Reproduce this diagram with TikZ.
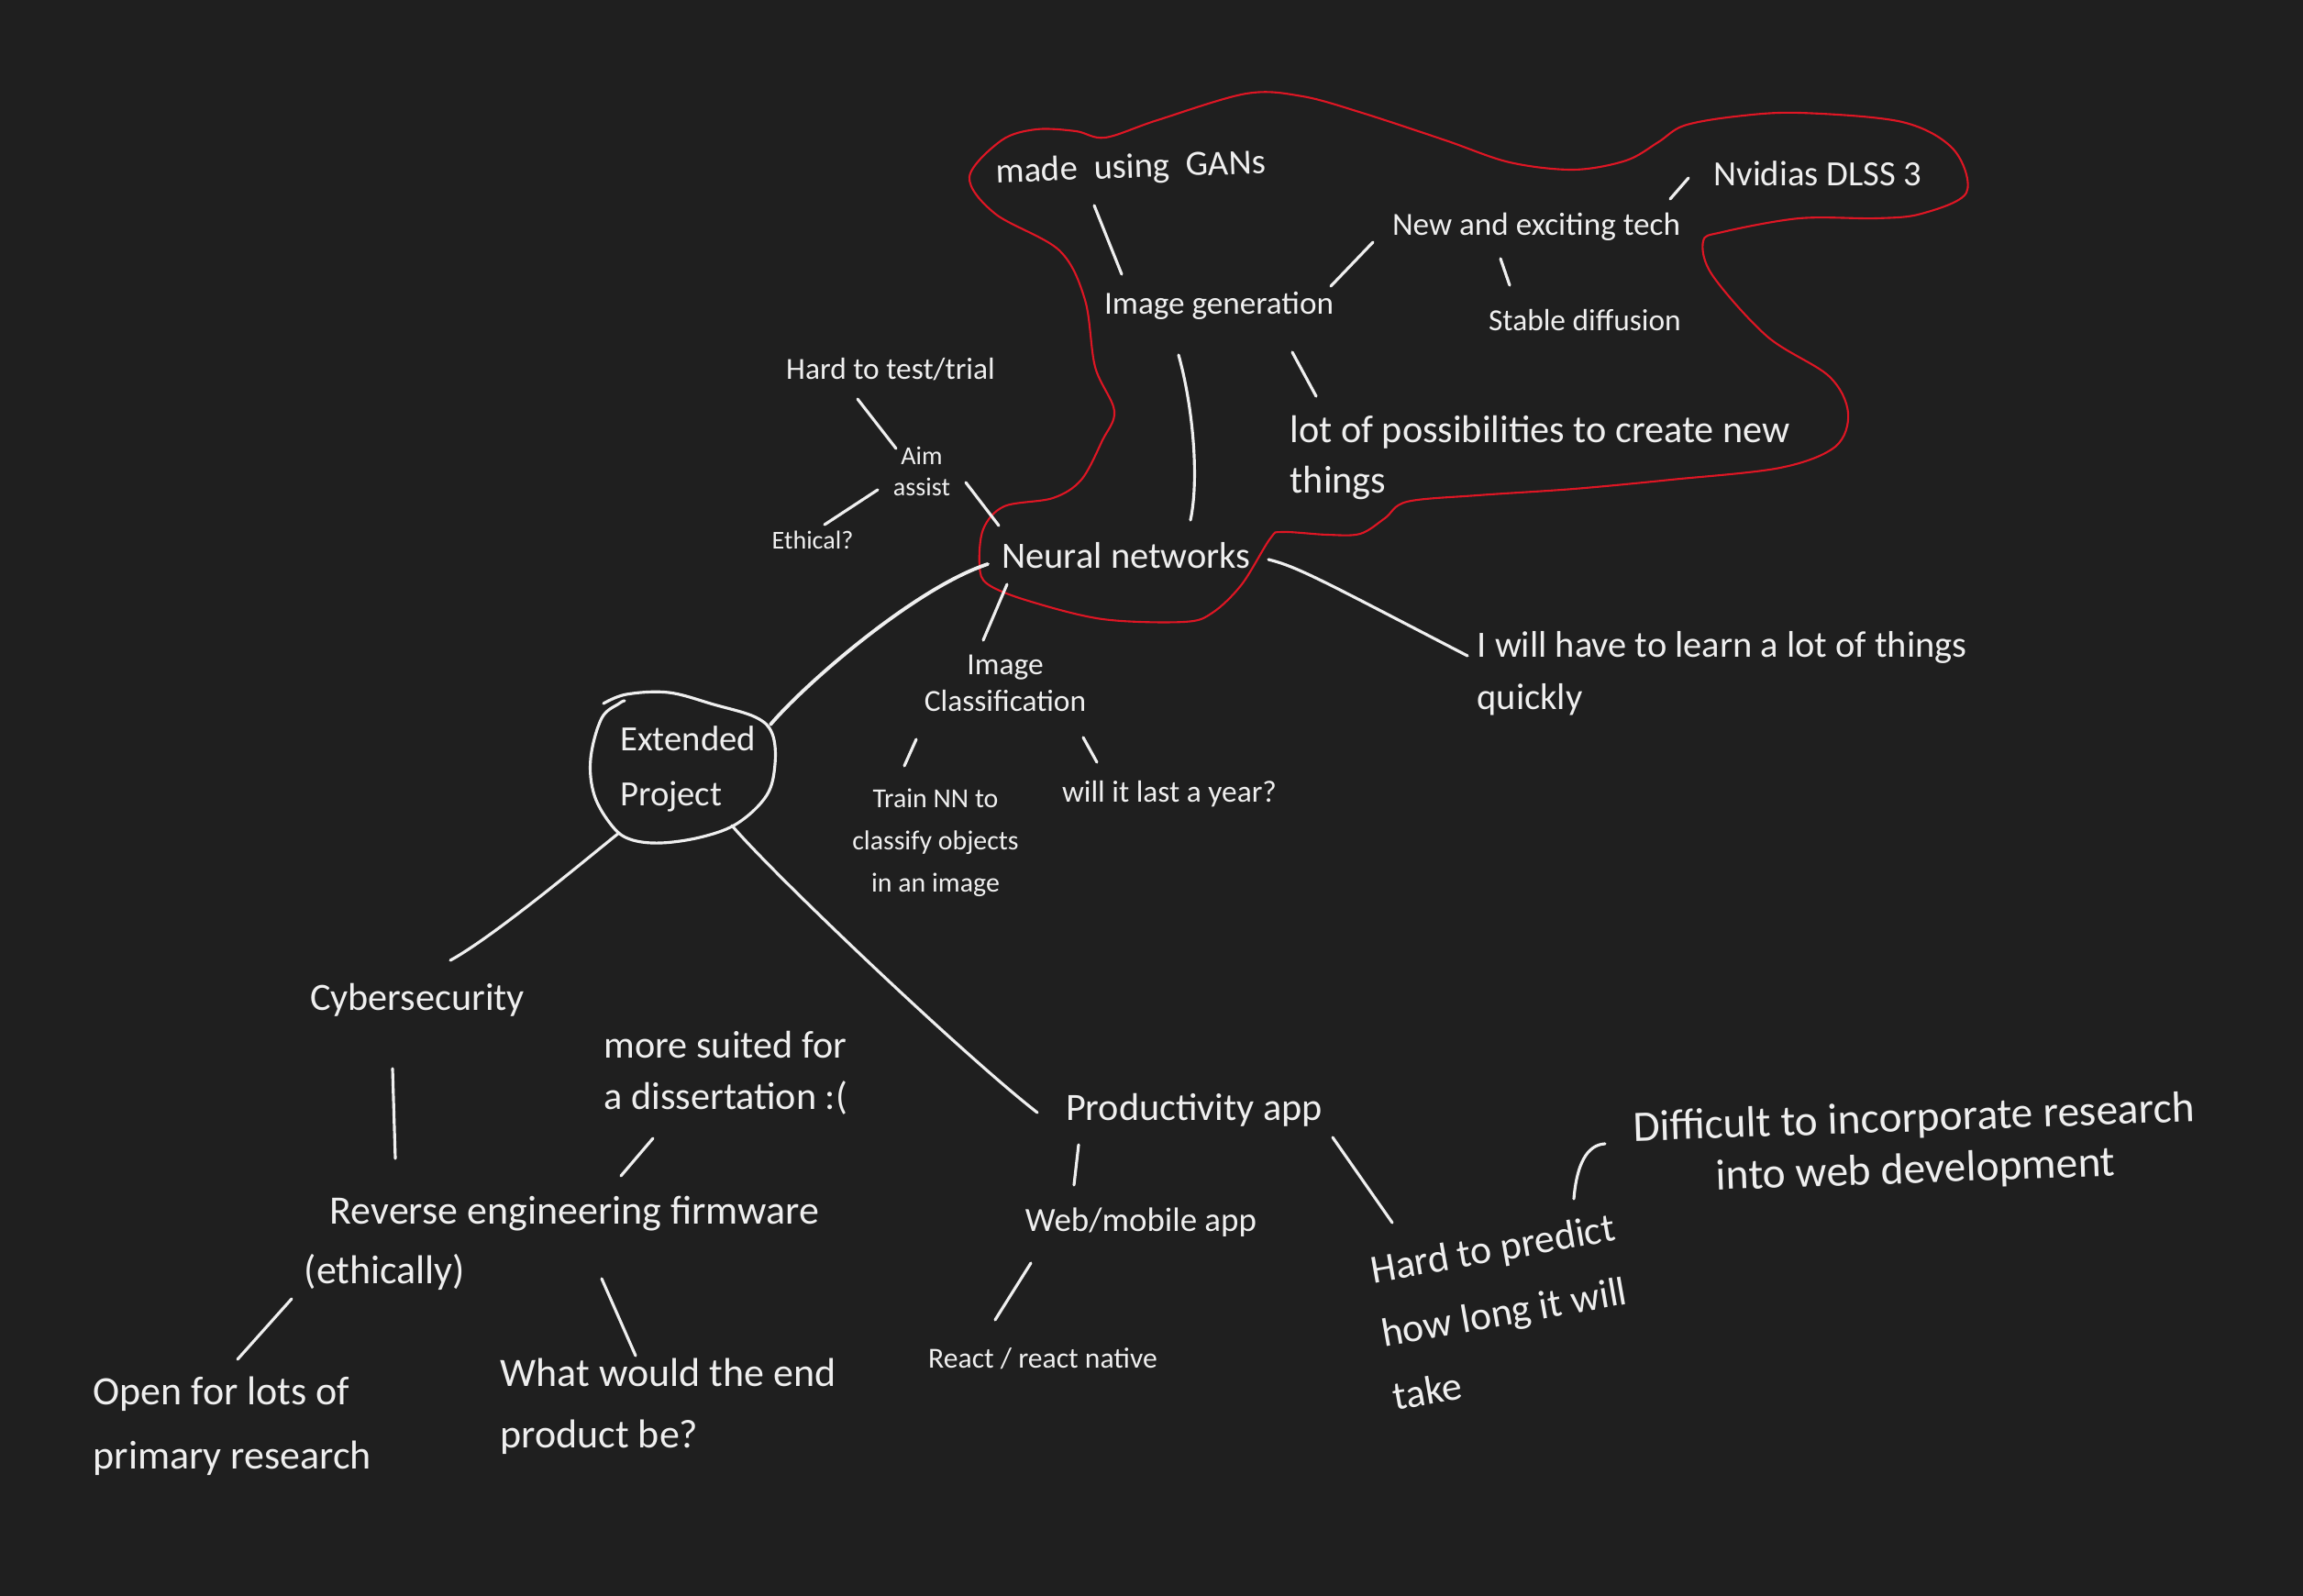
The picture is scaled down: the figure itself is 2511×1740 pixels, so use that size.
\documentclass[tikz,border=0pt]{standalone}
\usepackage{fontspec}
\setmainfont{Carlito}
\usetikzlibrary{calc}
\definecolor{bg}{HTML}{1F1F1F}
\definecolor{ink}{HTML}{EFEFEF}
\definecolor{blobred}{RGB}{222,22,36}
\newcommand{\fsz}[2]{\fontsize{#1}{#2}\selectfont}
\begin{document}
\begin{tikzpicture}[x=0.01cm,y=-0.01cm,
  lbl/.style={text=ink, inner sep=0pt, align=center},
  lbll/.style={text=ink, inner sep=0pt, align=left},
  link/.style={draw=ink, line width=0.9pt, line cap=round},
  blob/.style={draw=blobred, line width=0.6pt}]
\fill[bg] (0,0) rectangle (2511,1740);
\useasboundingbox (0,0) rectangle (2511,1740);

% ---- nodes ----
\node[lbl, font=\fsz{11}{14}, rotate=2] (gans) at (1233,184) {made\ \ using\ \ GANs};
\node[lbl, font=\fsz{11}{14}] (nvidia) at (1982,189) {Nvidias DLSS 3};
\node[lbl, font=\fsz{10}{12}] (newtech) at (1675,247) {New and exciting tech};
\node[lbl, font=\fsz{10}{12}] (imggen) at (1329,333) {Image generation};
\node[lbl, font=\fsz{9.5}{12}] (stable) at (1728,349) {Stable diffusion};
\node[lbll, font=\fsz{12}{15.5}, anchor=north west] (lot) at (1406,453) {lot of possibilities to create new\\things};
\node[lbl, font=\fsz{9.5}{12}] (hardtest) at (971,403) {Hard to test/trial};
\node[lbl, font=\fsz{8}{9.5}] (aim) at (1005,514) {Aim\\assist};
\node[lbl, font=\fsz{8}{10}] (ethical) at (886,589) {Ethical?};
\node[lbl, font=\fsz{11.5}{14}] (neural) at (1228,606) {Neural networks};
\node[lbl, font=\fsz{9.5}{11.5}] (imgclass) at (1096,745) {Image\\Classification};
\node[lbl, font=\fsz{8.5}{13}] (train) at (1020,919) {Train NN to\\classify objects\\in an image};
\node[lbl, font=\fsz{9.5}{11}] (willit) at (1275,866) {will it last a year?};
\node[lbll, font=\fsz{11.5}{16}, anchor=north west] (learn) at (1610,688) {I will have to learn a lot of things\\quickly};
\node[lbll, font=\fsz{11}{17}] (ext) at (750,838) {Extended\\Project};
\node[lbl, font=\fsz{12}{14}] (cyber) at (455,1090) {Cybersecurity};
\node[lbll, font=\fsz{12}{16}, anchor=north west] (more) at (658,1123) {more suited for\\a dissertation :(};
\node[lbll, font=\fsz{12.5}{18.5}, anchor=north west] (reverse) at (331,1303) {\hspace*{8pt}Reverse engineering firmware\\(ethically)};
\node[lbl, font=\fsz{12}{14}] (prod) at (1302,1210) {Productivity app};
\node[lbl, font=\fsz{10.5}{12}] (web) at (1244,1333) {Web/mobile app};
\node[lbl, font=\fsz{9}{11}] (react) at (1137,1481) {React / react native};
\node[lbll, font=\fsz{12.5}{20}, rotate=10] (hardpred) at (1640,1430) {Hard to predict\\how long it will\\take};
\node[lbl, font=\fsz{13.5}{16}, rotate=2] (difficult) at (2088,1249) {Difficult to incorporate research\\into web development};
\node[lbll, font=\fsz{12.5}{20}, anchor=north west] (open) at (101,1500) {Open for lots of\\primary research};
\node[lbll, font=\fsz{12.5}{19}, anchor=north west] (what) at (545,1480) {What would the end\\product be?};

% ---- outline of the central topic ----
\draw[link, shift={(ext)}] plot[smooth, tension=0.6] coordinates {(-92,-71) (-67,-81) (-21,-83) (28,-70) (74,-56) (92,-38) (95,-5) (86,29) (55,59) (17,74) (-29,81) (-63,77) (-83,62) (-102,29) (-106,-11) (-94,-55) (-75,-71) (-69,-74)};

% ---- red grouping outline ----
\draw[blob] plot[smooth cycle, tension=0.55] coordinates {(1057,193) (1092,153) (1130,141) (1173,143) (1205,150) (1262,131) (1359,102) (1420,105) (1485,123) (1576,153) (1646,177) (1716,185) (1773,175) (1808,155) (1836,137) (1892,127) (1962,123) (2074,133) (2130,163) (2144,210) (2095,233) (2046,238) (1962,238) (1878,253) (1857,263) (1867,300) (1927,367) (1994,410) (2015,450) (2001,487) (1941,510) (1822,523) (1716,533) (1611,540) (1534,547) (1510,565) (1483,582) (1447,583) (1398,580) (1385,587) (1354,637) (1322,668) (1291,678) (1202,675) (1121,655) (1077,637) (1068,617) (1072,577) (1095,552) (1148,543) (1179,523) (1202,480) (1215,448) (1194,400) (1183,327) (1155,273) (1085,233)};

% ---- connectors ----
\draw[link, line width=1.1pt] ($(ext)+(90,-48)$) .. controls (880,743) and (1000,640) .. ($(neural)+(-151,9)$);
\draw[link] ($(ext)+(-75,70)$) .. controls (640,936) and (540,1020) .. ($(cyber)+(36,-43)$);
\draw[link] ($(ext)+(48,62)$) .. controls (840,950) and (1050,1150) .. ($(prod)+(-171,3)$);

\draw[link] ($(gans)+(-40,40)$) -- ($(imggen)+(-106,-34)$);
\draw[link] ($(imggen)+(122,-21)$) -- ($(newtech)+(-178,17)$);
\draw[link] ($(newtech)+(146,-30)$) -- ($(nvidia)+(-141,5)$);
\draw[link] ($(newtech)+(-39,35)$) -- ($(stable)+(-82,-38)$);
\draw[link] ($(imggen)+(80,51)$) -- ($(lot.north west)+(29,-21)$);
\draw[link] ($(imggen)+(-44,54)$) .. controls (1300,440) and (1308,520) .. ($(neural)+(70,-39)$);

\draw[link] ($(hardtest)+(-36,32)$) -- ($(aim)+(-28,-25)$);
\draw[link] ($(aim)+(-48,20)$) -- ($(ethical)+(13,-17)$);
\draw[link] ($(aim)+(48,12)$) -- ($(neural)+(-139,-33)$);
\draw[link] ($(neural)+(-130,31)$) -- ($(imgclass)+(-24,-47)$);
\draw[link] ($(neural)+(155,4)$) .. controls (1415,618) and (1440,632) .. ($(learn.north west)+(-10,27)$);
\draw[link] ($(imgclass)+(-97,61)$) -- ($(train)+(-34,-84)$);
\draw[link] ($(imgclass)+(85,59)$) -- ($(willit)+(-79,-35)$);

\draw[link] ($(cyber)+(-27,75)$) -- ($(reverse.north west)+(100,-40)$);
\draw[link] ($(more.north west)+(54,118)$) -- ($(reverse.north west)+(346,-21)$);
\draw[link] ($(reverse.north west)+(-13,113)$) -- ($(open.north west)+(158,-18)$);
\draw[link] ($(reverse.north west)+(325,91)$) -- ($(what.north west)+(148,-2)$);

\draw[link] ($(prod)+(-126,38)$) -- ($(web)+(-73,-41)$);
\draw[link] ($(web)+(-120,44)$) -- ($(react)+(-52,-42)$);
\draw[link] ($(prod)+(151,30)$) -- ($(hardpred)+(-122,-97)$);
\draw[link] ($(hardpred)+(76,-123)$) .. controls (1719,1270) and (1730,1248) .. ($(difficult)+(-338,-2)$);
\end{tikzpicture}
\end{document}
